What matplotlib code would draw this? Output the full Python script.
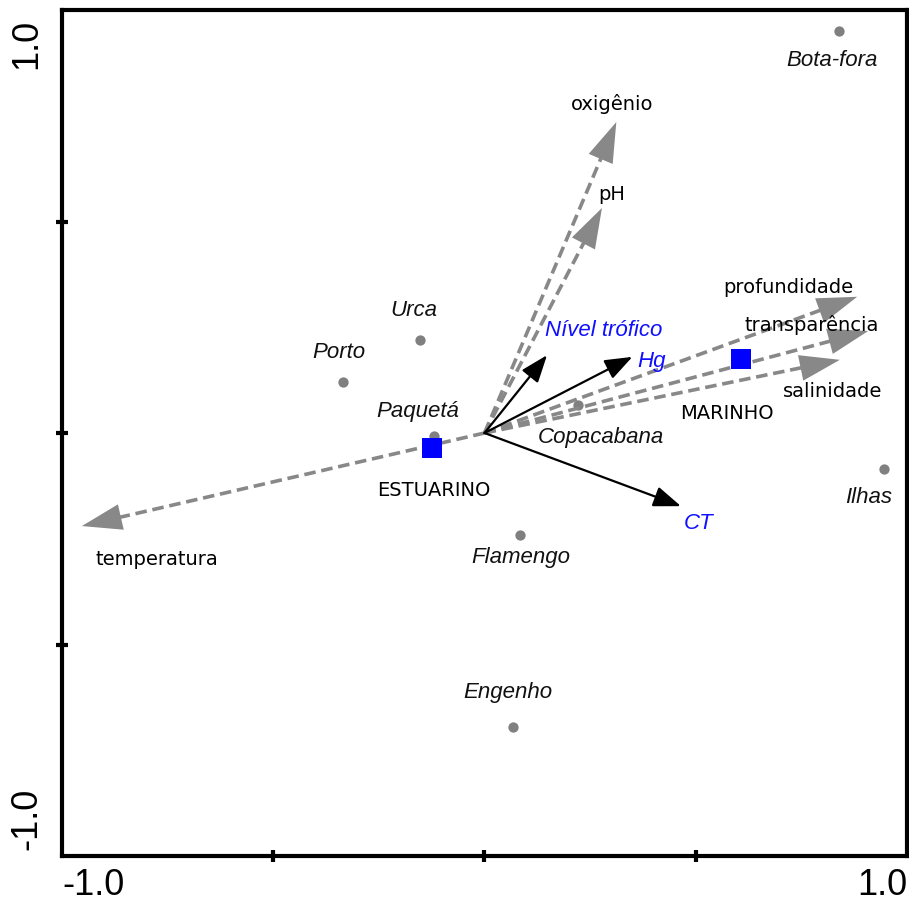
import matplotlib
matplotlib.use("Agg")
import matplotlib.pyplot as plt

# sites (gray points)
sites = ["Bota-fora", "Urca", "Porto", "Paquetá", "Copacabana", "Ilhas", "Flamengo", "Engenho"]
site_x = [0.838, -0.153, -0.335, -0.119, 0.221, 0.946, 0.084, 0.067]
site_y = [0.950, 0.220, 0.121, -0.007, 0.066, -0.085, -0.241, -0.695]

# environment groups (blue squares)
groups = ["ESTUARINO", "MARINHO"]
group_x = [-0.124, 0.607]
group_y = [-0.035, 0.175]

# response variables (black arrows)
resp = ["Nível trófico", "Hg", "CT"]
resp_x = [0.148, 0.350, 0.465]
resp_y = [0.184, 0.180, -0.173]

# environmental variables (gray dashed arrows)
env = ["oxigênio", "pH", "profundidade", "transparência", "salinidade", "temperatura"]
env_x = [0.312, 0.278, 0.882, 0.908, 0.841, -0.953]
env_y = [0.735, 0.532, 0.322, 0.241, 0.173, -0.220]

gray = "#888888"
blue = "#1010ff"

fig = plt.figure(figsize=(9.09, 9.05), dpi=100)
ax = fig.add_axes([62 / 909, (905 - 856) / 905, (907 - 62) / 909, (856 - 10) / 905])
ax.set_xlim(-1, 1)
ax.set_ylim(-1, 1)

# gray dashed arrows
for x, y in zip(env_x, env_y):
    ax.plot([0, x * 0.96], [0, y * 0.96], color=gray, lw=2.6, dashes=(3.2, 1.6), zorder=2)
    ax.annotate("", xy=(x, y), xytext=(x * 0.93, y * 0.93),
                arrowprops=dict(arrowstyle="-|>,head_length=1.6,head_width=0.52",
                                color=gray, lw=0, shrinkA=0, shrinkB=0,
                                mutation_scale=18), zorder=2)

# black arrows
for x, y in zip(resp_x, resp_y):
    ax.annotate("", xy=(x, y), xytext=(0, 0),
                arrowprops=dict(arrowstyle="-|>,head_length=1.2,head_width=0.45",
                                color="black", lw=1.6, shrinkA=0, shrinkB=0,
                                mutation_scale=14), zorder=3)

ax.scatter(site_x, site_y, s=55, color="#808080", zorder=1, linewidths=0)
ax.scatter(group_x, group_y, s=190, marker="s", color="#0000ff", zorder=4, linewidths=0)

# label positions
ital = dict(family="Liberation Sans", style="italic", fontsize=16, ha="center", va="center")
norm = dict(family="DejaVu Sans", fontsize=14, ha="center", va="center")

site_lx = [0.823, -0.167, -0.345, -0.158, 0.276, 0.908, 0.086, 0.056]
site_ly = [0.880, 0.289, 0.191, 0.052, -0.010, -0.153, -0.295, -0.613]
for s, lx, ly in zip(sites, site_lx, site_ly):
    ax.text(lx, ly, s, color="#111111", **ital)

group_lx = [-0.119, 0.574]
group_ly = [-0.137, 0.047]
for g, lx, ly in zip(groups, group_lx, group_ly):
    ax.text(lx, ly, g, color="black", **norm)

resp_lx = [0.283, 0.396, 0.506]
resp_ly = [0.243, 0.168, -0.213]
for r, lx, ly in zip(resp, resp_lx, resp_ly):
    ax.text(lx, ly, r, color=blue, **ital)

env_lx = [0.302, 0.302, 0.719, 0.775, 0.825, -0.775]
env_ly = [0.778, 0.565, 0.345, 0.255, 0.099, -0.300]
for e, lx, ly in zip(env, env_lx, env_ly):
    ax.text(lx, ly, e, color="black", **norm)

# axes styling
for side in ["left", "bottom", "top", "right"]:
    ax.spines[side].set_linewidth(3)
ax.set_xticks([-0.5, 0, 0.5])
ax.set_yticks([-0.5, 0, 0.5])
ax.set_xticklabels([])
ax.set_yticklabels([])
ax.tick_params(direction="inout", length=9, width=3, top=False, right=False)

tick_font = dict(family="Liberation Sans", fontsize=26)
ax.text(0.0, -0.046, "-1.0", transform=ax.transAxes, ha="left", va="baseline", **tick_font)
ax.text(1.0, -0.046, "1.0", transform=ax.transAxes, ha="right", va="baseline", **tick_font)
ax.text(-0.021, 0.99, "1.0", transform=ax.transAxes, ha="right", va="top", rotation=90, **tick_font)
ax.text(-0.021, 0.007, "-1.0", transform=ax.transAxes, ha="right", va="bottom", rotation=90, **tick_font)

fig.savefig("out.png", dpi=100)
